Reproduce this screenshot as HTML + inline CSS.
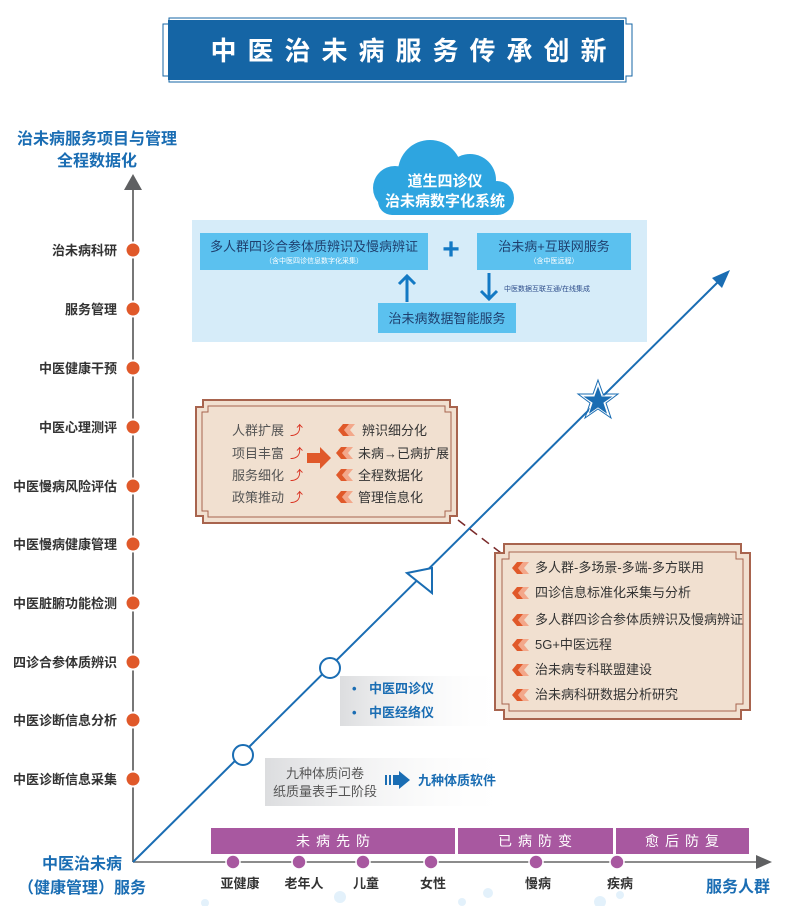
<!DOCTYPE html>
<html><head><meta charset="utf-8"><style>
body{margin:0;background:#fff;}
svg{display:block;font-family:"Liberation Sans","Noto Sans CJK SC",sans-serif;}
</style></head><body>
<svg width="789" height="906" viewBox="0 0 789 906" xmlns="http://www.w3.org/2000/svg">
<defs>
<linearGradient id="g1" x1="0" x2="1"><stop offset="0" stop-color="#dcdddf"/><stop offset="1" stop-color="#fff" stop-opacity="0"/></linearGradient>
<g id="chev"><polygon points="6,-6 12,-6 7,0 12,6 6,6 1,0" fill="#f3a78a"/><polygon points="0,-6 6,-6 1,0 6,6 0,6 -5,0" fill="#e0592a"/></g>
</defs>
<g fill="#e3f1fb">
<circle cx="340" cy="897" r="6"/><circle cx="488" cy="893" r="5"/><circle cx="462" cy="902" r="4"/><circle cx="600" cy="902" r="6"/><circle cx="620" cy="895" r="4"/><circle cx="205" cy="903" r="4"/>
</g>
<path d="M163 24 h6 v-6 h457 v6 h6 v52 h-6 v6 h-457 v-6 h-6z" fill="none" stroke="#1565a5" stroke-width="1"/>
<rect x="168" y="20" width="456" height="60" fill="#1565a5"/>
<text x="414" y="60" fill="#fff" font-size="26" font-weight="bold" text-anchor="middle" letter-spacing="11">中医治未病服务传承创新</text>

<text x="97" y="144" fill="#1a6db3" font-size="16" font-weight="bold" text-anchor="middle">治未病服务项目与管理</text>
<text x="97" y="166" fill="#1a6db3" font-size="16" font-weight="bold" text-anchor="middle">全程数据化</text>
<line x1="133" y1="188" x2="133" y2="862" stroke="#777" stroke-width="2"/>
<polygon points="124,190 142,190 133,174" fill="#5f6062"/>
<g fill="#e0592a" stroke="#fff" stroke-width="2">
<circle cx="133" cy="250" r="7.5"/><circle cx="133" cy="309" r="7.5"/><circle cx="133" cy="368" r="7.5"/><circle cx="133" cy="427" r="7.5"/><circle cx="133" cy="486" r="7.5"/><circle cx="133" cy="544" r="7.5"/><circle cx="133" cy="603" r="7.5"/><circle cx="133" cy="662" r="7.5"/><circle cx="133" cy="720" r="7.5"/><circle cx="133" cy="779" r="7.5"/>
</g>
<g fill="#333" font-size="13" font-weight="bold" text-anchor="end">
<text x="117" y="255">治未病科研</text><text x="117" y="314">服务管理</text><text x="117" y="373">中医健康干预</text><text x="117" y="432">中医心理测评</text><text x="117" y="491">中医慢病风险评估</text><text x="117" y="549">中医慢病健康管理</text><text x="117" y="608">中医脏腑功能检测</text><text x="117" y="667">四诊合参体质辨识</text><text x="117" y="725">中医诊断信息分析</text><text x="117" y="784">中医诊断信息采集</text>
</g>

<line x1="133" y1="862" x2="758" y2="862" stroke="#666" stroke-width="1.5"/>
<polygon points="756,855 756,869 772,862" fill="#5f6062"/>
<g fill="#a858a0">
<rect x="211" y="828" width="244" height="26"/><rect x="458" y="828" width="155" height="26"/><rect x="616" y="828" width="133" height="26"/>
</g>
<g fill="#fff" font-size="14" text-anchor="middle" letter-spacing="6">
<text x="336" y="846">未病先防</text><text x="538" y="846">已病防变</text><text x="685" y="846">愈后防复</text>
</g>
<g fill="#a858a0" stroke="#fff" stroke-width="1.5">
<circle cx="233" cy="862" r="7"/><circle cx="299" cy="862" r="7"/><circle cx="363" cy="862" r="7"/><circle cx="431" cy="862" r="7"/><circle cx="536" cy="862" r="7"/><circle cx="617" cy="862" r="7"/>
</g>
<g fill="#333" font-size="13" font-weight="bold" text-anchor="middle">
<text x="240" y="888">亚健康</text><text x="304" y="888">老年人</text><text x="366" y="888">儿童</text><text x="433" y="888">女性</text><text x="538" y="888">慢病</text><text x="620" y="888">疾病</text>
</g>
<text x="738" y="892" fill="#1a6db3" font-size="16" font-weight="bold" text-anchor="middle">服务人群</text>
<text x="82" y="869" fill="#1a6db3" font-size="16" font-weight="bold" text-anchor="middle">中医治未病</text>
<text x="82" y="893" fill="#1a6db3" font-size="16" font-weight="bold" text-anchor="middle">（健康管理）服务</text>

<rect x="192" y="220" width="455" height="122" fill="#d6ecf9"/>
<g fill="#2ea5e0">
<circle cx="430" cy="172" r="32"/><circle cx="395" cy="188" r="22"/><circle cx="470" cy="180" r="26"/><circle cx="497" cy="198" r="17"/><rect x="378" y="185" width="130" height="30" rx="14"/>
</g>
<text x="445" y="186" fill="#fff" font-size="15" font-weight="bold" text-anchor="middle">道生四诊仪</text>
<text x="445" y="206" fill="#fff" font-size="15" font-weight="bold" text-anchor="middle">治未病数字化系统</text>
<rect x="200" y="233" width="228" height="37" fill="#5bc1ef"/>
<text x="314" y="251" fill="#1f3f6e" font-size="13" text-anchor="middle">多人群四诊合参体质辨识及慢病辨证</text>
<text x="314" y="263" fill="#fff" font-size="7" text-anchor="middle">（含中医四诊信息数字化采集）</text>
<text x="451" y="259" fill="#1379c4" font-size="30" font-weight="bold" text-anchor="middle">+</text>
<rect x="477" y="233" width="154" height="37" fill="#5bc1ef"/>
<text x="554" y="251" fill="#1f3f6e" font-size="13" text-anchor="middle">治未病+互联网服务</text>
<text x="554" y="263" fill="#fff" font-size="7" text-anchor="middle">（含中医远程）</text>
<rect x="378" y="303" width="138" height="30" fill="#5bc1ef"/>
<text x="447" y="323" fill="#1f3f6e" font-size="13" text-anchor="middle">治未病数据智能服务</text>
<g stroke="#1379c4" stroke-width="3" fill="none">
<line x1="407" y1="302" x2="407" y2="276"/><polyline points="399,284 407,276 415,284"/>
<line x1="489" y1="273" x2="489" y2="299"/><polyline points="481,291 489,299 497,291"/>
</g>
<text x="504" y="291" fill="#2d4d8a" font-size="7">中医数据互联互通/在线集成</text>

<line x1="133" y1="862" x2="722" y2="278" stroke="#1a6db3" stroke-width="2"/>
<polygon points="730,270 712,278 722,288" fill="#1a6db3"/>
<polygon points="598,385 602,396 614,396 604,403 608,415 598,408 588,415 592,403 582,396 594,396" fill="#1a6db3" stroke="#fff" stroke-width="1"/>
<polygon points="598,380 603,394 618,394 606,403 611,418 598,409 585,418 590,403 578,394 593,394" fill="none" stroke="#1a6db3" stroke-width="1"/>
<polygon points="407,573 432,568 432,593" fill="#fff" stroke="#1a6db3" stroke-width="2"/>
<circle cx="330" cy="668" r="10" fill="#fff" stroke="#1a6db3" stroke-width="2"/>
<circle cx="243" cy="755" r="10" fill="#fff" stroke="#1a6db3" stroke-width="2"/>

<line x1="458" y1="520" x2="505" y2="556" stroke="#7a2a2a" stroke-width="1.5" stroke-dasharray="9,6"/>

<path d="M196 407 h7 v-7 h247 v7 h7 v109 h-7 v7 h-247 v-7 h-7z" fill="#f1e0d0" stroke="#a8644e" stroke-width="2"/>
<path d="M202 412 h6 v-6 h237 v6 h6 v99 h-6 v6 h-237 v-6 h-6z" fill="none" stroke="#a8644e" stroke-width="1"/>
<g fill="#555" font-size="13">
<text x="232" y="435">人群扩展</text><text x="232" y="458">项目丰富</text><text x="232" y="480">服务细化</text><text x="232" y="502">政策推动</text>
</g>
<g fill="#d9301f" font-size="13"><text x="290" y="435">⤴</text><text x="290" y="458">⤴</text><text x="290" y="480">⤴</text><text x="290" y="502">⤴</text></g>
<polygon points="307,453 320,453 320,447 331,458 320,469 320,463 307,463" fill="#e0592a"/>
<use href="#chev" x="343" y="430"/><use href="#chev" x="341" y="453"/><use href="#chev" x="341" y="475"/><use href="#chev" x="341" y="497"/>
<g fill="#333" font-size="13">
<text x="362" y="435">辨识细分化</text><text x="358" y="458">未病→已病扩展</text><text x="358" y="480">全程数据化</text><text x="358" y="502">管理信息化</text>
</g>

<rect x="340" y="676" width="165" height="50" fill="url(#g1)"/>
<g fill="#1a6db3" font-size="13" font-weight="bold">
<text x="352" y="693">•</text><text x="369" y="693">中医四诊仪</text>
<text x="352" y="717">•</text><text x="369" y="717">中医经络仪</text>
</g>
<path d="M495 553 h9 v-9 h237 v9 h9 v157 h-9 v9 h-237 v-9 h-9z" fill="#f1e0d0" stroke="#a8644e" stroke-width="2"/>
<path d="M502 559 h7 v-7 h227 v7 h7 v145 h-7 v7 h-227 v-7 h-7z" fill="none" stroke="#a8644e" stroke-width="1"/>
<use href="#chev" x="517" y="568"/><use href="#chev" x="517" y="593"/><use href="#chev" x="517" y="620"/><use href="#chev" x="517" y="645"/><use href="#chev" x="517" y="670"/><use href="#chev" x="517" y="695"/>
<g fill="#333" font-size="13">
<text x="535" y="572">多人群-多场景-多端-多方联用</text><text x="535" y="597">四诊信息标准化采集与分析</text><text x="535" y="624">多人群四诊合参体质辨识及慢病辨证</text><text x="535" y="649">5G+中医远程</text><text x="535" y="674">治未病专科联盟建设</text><text x="535" y="699">治未病科研数据分析研究</text>
</g>

<rect x="265" y="758" width="250" height="48" fill="url(#g1)"/>
<text x="325" y="778" fill="#555" font-size="13" text-anchor="middle">九种体质问卷</text>
<text x="325" y="796" fill="#555" font-size="13" text-anchor="middle">纸质量表手工阶段</text>
<g fill="#1a6db3">
<rect x="385" y="775" width="2" height="10"/><rect x="389" y="775" width="2" height="10"/><rect x="393" y="775" width="6" height="10"/>
<polygon points="399,771 410,780 399,789"/>
</g>
<text x="418" y="785" fill="#1a6db3" font-size="13" font-weight="bold">九种体质软件</text>
</svg>
</body></html>
